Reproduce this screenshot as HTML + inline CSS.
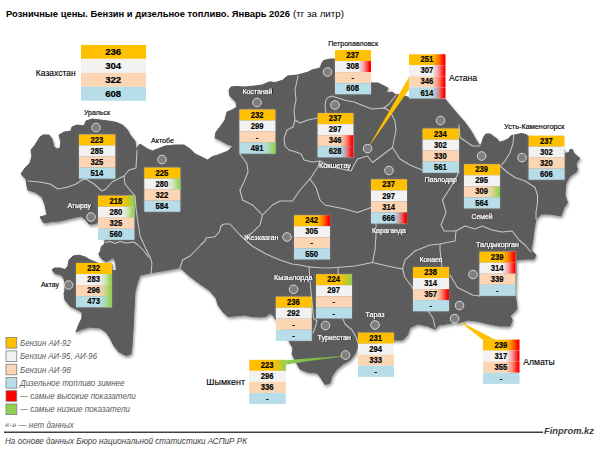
<!DOCTYPE html>
<html lang="ru">
<head>
<meta charset="utf-8">
<title>Розничные цены. Бензин и дизельное топливо</title>
<style>
html,body{margin:0;padding:0;background:#fff}
body{width:600px;height:451px;overflow:hidden}
svg{display:block}
svg text{font-family:"Liberation Sans",sans-serif}
.num{font-weight:bold;fill:#000;text-anchor:middle;stroke:#000;stroke-width:0.2px}
.leg{font-style:italic;fill:#595959;font-size:8.8px}
</style>
</head>
<body>
<svg width="600" height="451" viewBox="0 0 600 451">
<defs>
<filter id="ms" x="-5%" y="-5%" width="110%" height="110%"><feGaussianBlur in="SourceAlpha" stdDeviation="1.8"/><feOffset dx="1.3" dy="1.9"/><feComponentTransfer><feFuncA type="linear" slope="0.42"/></feComponentTransfer><feMerge><feMergeNode/><feMergeNode in="SourceGraphic"/></feMerge></filter>
<filter id="ts" x="-20%" y="-20%" width="140%" height="140%"><feGaussianBlur in="SourceAlpha" stdDeviation="1.3" result="b"/><feFlood flood-color="#ffffff" flood-opacity="0.22"/><feComposite in2="b" operator="in"/><feMerge><feMergeNode/><feMergeNode in="SourceGraphic"/></feMerge></filter>
<linearGradient id="gr" x1="0" x2="1" y1="0" y2="0"><stop offset="0" stop-color="#FF0000" stop-opacity="0"/><stop offset="0.45" stop-color="#FF0000" stop-opacity="0.35"/><stop offset="0.9" stop-color="#FF0000" stop-opacity="1"/><stop offset="1" stop-color="#FF0000"/></linearGradient>
<linearGradient id="gg" x1="0" x2="1" y1="0" y2="0"><stop offset="0" stop-color="#92D050" stop-opacity="0"/><stop offset="0.45" stop-color="#92D050" stop-opacity="0.35"/><stop offset="0.95" stop-color="#92D050" stop-opacity="1"/><stop offset="1" stop-color="#92D050"/></linearGradient>
<linearGradient id="gl" x1="0" x2="1" y1="0" y2="0"><stop offset="0" stop-color="#92D050"/><stop offset="0.35" stop-color="#84c04a"/><stop offset="1" stop-color="#6a9a44"/></linearGradient>
<filter id="bl" x="-20%" y="-20%" width="140%" height="140%"><feGaussianBlur stdDeviation="0.5"/></filter>
<filter id="ls" x="-10%" y="-30%" width="120%" height="160%"><feGaussianBlur in="SourceAlpha" stdDeviation="0.35"/><feOffset dx="0.5" dy="0.4"/><feComponentTransfer><feFuncA type="linear" slope="0.7"/></feComponentTransfer><feMerge><feMergeNode/><feMergeNode in="SourceGraphic"/></feMerge></filter>
</defs>
<rect width="600" height="451" fill="#fff"/>
<g filter="url(#ms)"><polygon points="21,174 25,168 30,163 32,156 31,150 35,145 40,137 43,135 49,135 52,139 54,147 57,149 60,148 61,142 59,135 64,132 71,131 72,127 77,125 84,126 86,121 92,119 100,120 108,121 116,122.3 122.5,125 127.5,130 130,135 135,141 136,149 140,144 147.5,149 152.5,151 157.5,149 165,146 175,145 184,145 190,149 195,154 202.5,157.5 207.5,160 212.5,156.5 218,155 228,151 233,146 227,144 220,140 215,138 216,132 220,127 225,120 227,112 232,110 237,107 236,102 230,96 229,90 231,87 236,86.5 244,87 255,86 262,85 266,83.3 270,81.8 275,82.6 282.5,80.3 287.5,76 297.5,75 307.5,72.3 312,70 320,68 322,63 323.5,60.5 330,59 335,59 345,59 360,68 371,83 378,83 382,85 388,88 386,93 392,92 396,95 400,94.5 409,97.5 445,99 450,105 457.5,114 465,122.5 471,131 476,140 480,146 481.7,143.3 483.4,137.5 485.8,134 490.4,134 493.3,136.3 497.4,139.3 499.2,142.2 503.8,141 508.5,138.7 510.8,135.8 516.7,134.6 521.3,133.4 526,134.6 528.3,136.3 540,138 555,142 564.6,150 564.6,153.5 569,152.5 570,149.5 572.5,149.5 573.5,153 577,156 580,158.5 577,161.5 576,165 577.5,169 576,172 572,174.5 569,177.5 567,181 565.5,185 565,195 567.5,202.5 564,207.5 561,216 550,214 541,214 536,219 534,230 532.5,242.5 531,250 536,255 534,259 525,259 516,260 516,272.5 515.5,296 516.5,303 517,309 513,313 510,316 512.4,320 510,326 500,326 490,324.3 478,321.3 467.5,320 460,322.5 454,322.5 446,324 439,325 435,329 427.5,326 417.5,324 410,327.5 407.5,335 402.5,340 395,340 358,346 355,354 350,360 343,364 336,370 332,376 330,383 325,384.5 321,378 317,373 307,372 300,369 296,362 292,354 293,348 290,343 285,332 276,320 274.5,318 273,315 270,313.5 268,314.5 266,316.5 260,317 252,316.5 244,315 235,316 228,316.5 223,312 218,305 216,298 209,290 200,284 190,276.5 180,267.5 167.5,270 152.5,272.5 140,275 137,284 135,292 134,310 133,330 132,346 131,354 126,355.5 119,352 114,346 110,338 106,332 100,328 90,327 82,329 76,332 79,324 82,318 82,312 76,309 70,306 65,300 64,294 65,290 64.4,280 63,277 60,274.5 55,273.5 52,270 54,268 60,268 65,269.5 68,266 69,260 73,256 79,255.2 85,257 90.3,260 96.5,262.5 100,264 112,264 112,270.5 116.5,270.5 115.6,262.5 113.4,257.6 110,259.5 106.3,261.6 104,260.7 100.5,257.2 98.7,254 100.5,251 101.4,246.5 104,244.8 105,240.3 98,222.5 93,224 89,224 86,220 81,216 72,218 60,221 49,222 44,223 40,217 47,215 45,205 42,197 35,192 28,190 27,186 26,179" fill="#5b5b5b" stroke="#5b5b5b" stroke-width="1" stroke-linejoin="round"/></g>
<g fill="none" stroke="#c6c6c6" stroke-width="1.05" stroke-linejoin="round" stroke-linecap="round">
<polyline points="28,181 40,182 50,184 58,189 68,187 76,184 82,180 86,179 94,184 102,191 106,189 112,182 120,178 124,176 129,170 136,168 137,150"/>
<polyline points="124,176 125,184 130,190 135,196 136,208 137,216 140,236 146,249 150,257 152,263 151,273.5"/>
<polyline points="105,242.5 110,241.5 115,243.5 120,241.5 126,243 134,242 138,245 144,251 148.5,257"/>
<polyline points="180,267.5 182.7,260 190,256 194,252 200.7,245 205,241 206,238 215,236.7 219.3,232 221,226 224,224 230,224 240,235 252,246 266,254 280,260 292,264 300,265 309,267"/>
<polyline points="240,190 242.5,200 252.5,205 262.5,215 260,225 252.5,232.5 245,237"/>
<polyline points="240,154 243,158 247,164 248,172 244,182 240,190"/>
<polyline points="298,76 295,90 296,100 294,110 295,120 293,127 287,130 284,138 285,146 289,150 296,152 301,154 304,160 312,162 320,161 317.5,167.5 310,179 300,190 292.5,201 280,201 272.5,205 262.5,215"/>
<polyline points="295,120 300,123 308,120 317,118"/>
<polyline points="326,113 325,106 326,100 328,97.5 332,96 338,98 344,100 354,102 364,106 372,109 384,108 388,110 392,115 395,121 396,130 392.5,147.5 382.5,155 372.5,162.5 367.5,156 357.5,159 354,165 351,171 332,167 320,161"/>
<polyline points="384,108 389,104 393,99 396,95.5"/>
<polyline points="310,179 316,187.5 320,200 325,205 345,209 357.5,212.5 371,207.5"/>
<polyline points="392.5,147.5 400,159 410,165 422,170"/>
<polyline points="459,125 460,137.5 472.5,146 480,146"/>
<polyline points="513.8,135.2 513,143.3 510,152.7 505,160.8 501.5,165"/>
<polyline points="500,166 507,172 515,177.5 525,181 535,187.5 537.5,195 537.5,203 536,212 536,219"/>
<polyline points="442.5,200 446,212.5 441,225 444,231 456,231 465,226 475,229 482,226 492,230 502,232 512,231 519,240 525,245 531,252"/>
<polyline points="459,172 452,185 442.5,200"/>
<polyline points="376,223 376,235 375,250 372.5,262.5"/>
<polyline points="309,267 320,267.8 330,268 355,266 372.5,262.5 387.5,266 402.5,269 405,260 415,251 430,245 440,244 455,241 456,231"/>
<polyline points="402.5,269 405,277.5 412.5,287.5 416,296 422,305 428,311 433,318 435,327"/>
<polyline points="440,244 440,250 442,267"/>
<polyline points="450,275 457.5,287.5 472.5,295 480,296"/>
<polyline points="309,267 310,280 311.5,297 313.5,318 317,321 315,328 313,333"/>
<polyline points="343,319 345,324 352,330 356,337 358,343"/>
<polyline points="338,268 338.4,274"/>
</g>
<polygon points="409,77 409,89.5 367.6,148.6" fill="#FFC000"/>
<polygon points="459,321 483,340 496,340" fill="#FFC000"/>
<polygon points="285.8,360.3 285.8,364.8 305,361.5 345.5,356.5 345.5,355.6" fill="url(#gl)"/>
<circle cx="96" cy="127.5" r="4.3" fill="#7f7f7f" stroke="#d9d9d9" stroke-width="1"/>
<circle cx="162" cy="159.5" r="4.3" fill="#7f7f7f" stroke="#d9d9d9" stroke-width="1"/>
<circle cx="91" cy="217" r="4.3" fill="#7f7f7f" stroke="#d9d9d9" stroke-width="1"/>
<circle cx="68.6" cy="285" r="4.3" fill="#7f7f7f" stroke="#d9d9d9" stroke-width="1"/>
<circle cx="257" cy="102.5" r="4.3" fill="#7f7f7f" stroke="#d9d9d9" stroke-width="1"/>
<circle cx="327.5" cy="72" r="4.3" fill="#7f7f7f" stroke="#d9d9d9" stroke-width="1"/>
<circle cx="335" cy="105" r="4.3" fill="#7f7f7f" stroke="#d9d9d9" stroke-width="1"/>
<circle cx="367.6" cy="148.6" r="4.3" fill="#7f7f7f" stroke="#d9d9d9" stroke-width="1"/>
<circle cx="440.5" cy="120.5" r="4.3" fill="#7f7f7f" stroke="#d9d9d9" stroke-width="1"/>
<circle cx="481.6" cy="156" r="4.3" fill="#7f7f7f" stroke="#d9d9d9" stroke-width="1"/>
<circle cx="522" cy="157.6" r="4.3" fill="#7f7f7f" stroke="#d9d9d9" stroke-width="1"/>
<circle cx="389" cy="170.5" r="4.3" fill="#7f7f7f" stroke="#d9d9d9" stroke-width="1"/>
<circle cx="287" cy="237" r="4.3" fill="#7f7f7f" stroke="#d9d9d9" stroke-width="1"/>
<circle cx="293.6" cy="289.3" r="4.3" fill="#7f7f7f" stroke="#d9d9d9" stroke-width="1"/>
<circle cx="325.5" cy="325.5" r="4.3" fill="#7f7f7f" stroke="#d9d9d9" stroke-width="1"/>
<circle cx="375" cy="325" r="4.3" fill="#7f7f7f" stroke="#d9d9d9" stroke-width="1"/>
<circle cx="345.5" cy="355" r="4.3" fill="#7f7f7f" stroke="#d9d9d9" stroke-width="1"/>
<circle cx="459.5" cy="305.5" r="4.3" fill="#7f7f7f" stroke="#d9d9d9" stroke-width="1"/>
<circle cx="473" cy="274.5" r="4.3" fill="#7f7f7f" stroke="#d9d9d9" stroke-width="1"/>
<circle cx="454.6" cy="318.6" r="4.3" fill="#7f7f7f" stroke="#d9d9d9" stroke-width="1"/>
<g filter="url(#ts)">
<rect x="81" y="44.90" width="65" height="14.00" fill="#FFC000"/>
<rect x="81" y="58.85" width="65" height="14.00" fill="#F2F2F2"/>
<rect x="81" y="72.80" width="65" height="14.00" fill="#FCD5B4"/>
<rect x="81" y="86.75" width="65" height="14.00" fill="#B7DEE8"/>
</g>
<text class="num" x="113.20" y="54.69" font-size="9.9" textLength="16.0" lengthAdjust="spacingAndGlyphs">236</text>
<text class="num" x="113.20" y="68.64" font-size="9.9" textLength="16.0" lengthAdjust="spacingAndGlyphs">304</text>
<text class="num" x="113.20" y="82.59" font-size="9.9" textLength="16.0" lengthAdjust="spacingAndGlyphs">322</text>
<text class="num" x="113.20" y="96.54" font-size="9.9" textLength="16.0" lengthAdjust="spacingAndGlyphs">608</text>
<g filter="url(#ts)">
<rect x="79" y="134.40" width="36.3" height="11.10" fill="#FFC000"/>
<rect x="79" y="145.45" width="36.3" height="11.10" fill="#F2F2F2"/>
<rect x="79" y="156.50" width="36.3" height="11.10" fill="#FCD5B4"/>
<rect x="79" y="167.55" width="36.3" height="11.10" fill="#B7DEE8"/>
</g>
<text class="num" x="96.85" y="142.57" font-size="9.4" textLength="12.8" lengthAdjust="spacingAndGlyphs">223</text>
<text class="num" x="96.85" y="153.62" font-size="9.4" textLength="12.8" lengthAdjust="spacingAndGlyphs">285</text>
<text class="num" x="96.85" y="164.67" font-size="9.4" textLength="12.8" lengthAdjust="spacingAndGlyphs">325</text>
<text class="num" x="96.85" y="175.72" font-size="9.4" textLength="12.8" lengthAdjust="spacingAndGlyphs">514</text>
<g filter="url(#ts)">
<rect x="144.3" y="167.50" width="36" height="11.10" fill="#FFC000"/>
<rect x="144.3" y="178.55" width="36" height="11.10" fill="#F2F2F2"/>
<rect x="167.34" y="178.55" width="12.96" height="11.10" fill="url(#gg)"/>
<rect x="144.3" y="189.60" width="36" height="11.10" fill="#FCD5B4"/>
<rect x="144.3" y="200.65" width="36" height="11.10" fill="#B7DEE8"/>
</g>
<text class="num" x="162.00" y="175.67" font-size="9.4" textLength="12.8" lengthAdjust="spacingAndGlyphs">225</text>
<text class="num" x="162.00" y="186.72" font-size="9.4" textLength="12.8" lengthAdjust="spacingAndGlyphs">280</text>
<text class="num" x="162.00" y="197.77" font-size="9.4" textLength="12.8" lengthAdjust="spacingAndGlyphs">322</text>
<text class="num" x="162.00" y="208.82" font-size="9.4" textLength="12.8" lengthAdjust="spacingAndGlyphs">584</text>
<g filter="url(#ts)">
<rect x="98" y="195.60" width="36.4" height="11.10" fill="#FFC000"/>
<rect x="121.30" y="195.60" width="13.10" height="11.10" fill="url(#gg)"/>
<rect x="98" y="206.65" width="36.4" height="11.10" fill="#F2F2F2"/>
<rect x="121.30" y="206.65" width="13.10" height="11.10" fill="url(#gg)"/>
<rect x="98" y="217.70" width="36.4" height="11.10" fill="#FCD5B4"/>
<rect x="98" y="228.75" width="36.4" height="11.10" fill="#B7DEE8"/>
</g>
<text class="num" x="115.90" y="203.77" font-size="9.4" textLength="12.8" lengthAdjust="spacingAndGlyphs">218</text>
<text class="num" x="115.90" y="214.82" font-size="9.4" textLength="12.8" lengthAdjust="spacingAndGlyphs">280</text>
<text class="num" x="115.90" y="225.87" font-size="9.4" textLength="12.8" lengthAdjust="spacingAndGlyphs">325</text>
<text class="num" x="115.90" y="236.92" font-size="9.4" textLength="12.8" lengthAdjust="spacingAndGlyphs">560</text>
<g filter="url(#ts)">
<rect x="76" y="263.00" width="36" height="11.10" fill="#FFC000"/>
<rect x="76" y="274.05" width="36" height="11.10" fill="#F2F2F2"/>
<rect x="99.04" y="274.05" width="12.96" height="11.10" fill="url(#gg)"/>
<rect x="76" y="285.10" width="36" height="11.10" fill="#FCD5B4"/>
<rect x="99.04" y="285.10" width="12.96" height="11.10" fill="url(#gg)"/>
<rect x="76" y="296.15" width="36" height="11.10" fill="#B7DEE8"/>
<rect x="99.04" y="296.15" width="12.96" height="11.10" fill="url(#gg)"/>
</g>
<text class="num" x="93.70" y="271.17" font-size="9.4" textLength="12.8" lengthAdjust="spacingAndGlyphs">232</text>
<text class="num" x="93.70" y="282.22" font-size="9.4" textLength="12.8" lengthAdjust="spacingAndGlyphs">283</text>
<text class="num" x="93.70" y="293.27" font-size="9.4" textLength="12.8" lengthAdjust="spacingAndGlyphs">296</text>
<text class="num" x="93.70" y="304.32" font-size="9.4" textLength="12.8" lengthAdjust="spacingAndGlyphs">473</text>
<g filter="url(#ts)">
<rect x="239.4" y="109.40" width="36" height="11.10" fill="#FFC000"/>
<rect x="239.4" y="120.45" width="36" height="11.10" fill="#F2F2F2"/>
<rect x="239.4" y="131.50" width="36" height="11.10" fill="#FCD5B4"/>
<rect x="239.4" y="142.55" width="36" height="11.10" fill="#B7DEE8"/>
<rect x="262.44" y="142.55" width="12.96" height="11.10" fill="url(#gg)"/>
</g>
<text class="num" x="257.10" y="117.57" font-size="9.4" textLength="12.8" lengthAdjust="spacingAndGlyphs">232</text>
<text class="num" x="257.10" y="128.62" font-size="9.4" textLength="12.8" lengthAdjust="spacingAndGlyphs">299</text>
<text class="num" x="257.10" y="139.67" font-size="7.5">-</text>
<text class="num" x="257.10" y="150.72" font-size="9.4" textLength="12.8" lengthAdjust="spacingAndGlyphs">491</text>
<g filter="url(#ts)">
<rect x="335" y="50.00" width="36" height="11.10" fill="#FFC000"/>
<rect x="335" y="61.05" width="36" height="11.10" fill="#F2F2F2"/>
<rect x="358.04" y="61.05" width="12.96" height="11.10" fill="url(#gr)"/>
<rect x="335" y="72.10" width="36" height="11.10" fill="#FCD5B4"/>
<rect x="335" y="83.15" width="36" height="11.10" fill="#B7DEE8"/>
</g>
<text class="num" x="352.70" y="58.17" font-size="9.4" textLength="12.8" lengthAdjust="spacingAndGlyphs">237</text>
<text class="num" x="352.70" y="69.22" font-size="9.4" textLength="12.8" lengthAdjust="spacingAndGlyphs">308</text>
<text class="num" x="352.70" y="80.27" font-size="7.5">-</text>
<text class="num" x="352.70" y="91.32" font-size="9.4" textLength="12.8" lengthAdjust="spacingAndGlyphs">608</text>
<g filter="url(#ts)">
<rect x="317.6" y="113.10" width="35.8" height="11.10" fill="#FFC000"/>
<rect x="317.6" y="124.15" width="35.8" height="11.10" fill="#F2F2F2"/>
<rect x="317.6" y="135.20" width="35.8" height="11.10" fill="#FCD5B4"/>
<rect x="340.51" y="135.20" width="12.89" height="11.10" fill="url(#gr)"/>
<rect x="317.6" y="146.25" width="35.8" height="11.10" fill="#B7DEE8"/>
<rect x="340.51" y="146.25" width="12.89" height="11.10" fill="url(#gr)"/>
</g>
<text class="num" x="335.20" y="121.27" font-size="9.4" textLength="12.8" lengthAdjust="spacingAndGlyphs">237</text>
<text class="num" x="335.20" y="132.32" font-size="9.4" textLength="12.8" lengthAdjust="spacingAndGlyphs">297</text>
<text class="num" x="335.20" y="143.37" font-size="9.4" textLength="12.8" lengthAdjust="spacingAndGlyphs">346</text>
<text class="num" x="335.20" y="154.42" font-size="9.4" textLength="12.8" lengthAdjust="spacingAndGlyphs">628</text>
<g filter="url(#ts)">
<rect x="409" y="54.20" width="36.5" height="11.10" fill="#FFC000"/>
<rect x="432.36" y="54.20" width="13.14" height="11.10" fill="url(#gr)"/>
<rect x="409" y="65.25" width="36.5" height="11.10" fill="#F2F2F2"/>
<rect x="432.36" y="65.25" width="13.14" height="11.10" fill="url(#gr)"/>
<rect x="409" y="76.30" width="36.5" height="11.10" fill="#FCD5B4"/>
<rect x="432.36" y="76.30" width="13.14" height="11.10" fill="url(#gr)"/>
<rect x="409" y="87.35" width="36.5" height="11.10" fill="#B7DEE8"/>
<rect x="432.36" y="87.35" width="13.14" height="11.10" fill="url(#gr)"/>
</g>
<text class="num" x="426.95" y="62.37" font-size="9.4" textLength="12.8" lengthAdjust="spacingAndGlyphs">251</text>
<text class="num" x="426.95" y="73.42" font-size="9.4" textLength="12.8" lengthAdjust="spacingAndGlyphs">307</text>
<text class="num" x="426.95" y="84.47" font-size="9.4" textLength="12.8" lengthAdjust="spacingAndGlyphs">346</text>
<text class="num" x="426.95" y="95.52" font-size="9.4" textLength="12.8" lengthAdjust="spacingAndGlyphs">614</text>
<g filter="url(#ts)">
<rect x="422.6" y="128.50" width="36.4" height="11.10" fill="#FFC000"/>
<rect x="422.6" y="139.55" width="36.4" height="11.10" fill="#F2F2F2"/>
<rect x="422.6" y="150.60" width="36.4" height="11.10" fill="#FCD5B4"/>
<rect x="422.6" y="161.65" width="36.4" height="11.10" fill="#B7DEE8"/>
</g>
<text class="num" x="440.50" y="136.67" font-size="9.4" textLength="12.8" lengthAdjust="spacingAndGlyphs">234</text>
<text class="num" x="440.50" y="147.72" font-size="9.4" textLength="12.8" lengthAdjust="spacingAndGlyphs">302</text>
<text class="num" x="440.50" y="158.77" font-size="9.4" textLength="12.8" lengthAdjust="spacingAndGlyphs">330</text>
<text class="num" x="440.50" y="169.82" font-size="9.4" textLength="12.8" lengthAdjust="spacingAndGlyphs">561</text>
<g filter="url(#ts)">
<rect x="464" y="164.20" width="36" height="11.10" fill="#FFC000"/>
<rect x="464" y="175.25" width="36" height="11.10" fill="#F2F2F2"/>
<rect x="464" y="186.30" width="36" height="11.10" fill="#FCD5B4"/>
<rect x="487.04" y="186.30" width="12.96" height="11.10" fill="url(#gg)"/>
<rect x="464" y="197.35" width="36" height="11.10" fill="#B7DEE8"/>
</g>
<text class="num" x="481.70" y="172.37" font-size="9.4" textLength="12.8" lengthAdjust="spacingAndGlyphs">239</text>
<text class="num" x="481.70" y="183.42" font-size="9.4" textLength="12.8" lengthAdjust="spacingAndGlyphs">295</text>
<text class="num" x="481.70" y="194.47" font-size="9.4" textLength="12.8" lengthAdjust="spacingAndGlyphs">309</text>
<text class="num" x="481.70" y="205.52" font-size="9.4" textLength="12.8" lengthAdjust="spacingAndGlyphs">564</text>
<g filter="url(#ts)">
<rect x="528.6" y="135.50" width="36" height="11.10" fill="#FFC000"/>
<rect x="528.6" y="146.55" width="36" height="11.10" fill="#F2F2F2"/>
<rect x="528.6" y="157.60" width="36" height="11.10" fill="#FCD5B4"/>
<rect x="528.6" y="168.65" width="36" height="11.10" fill="#B7DEE8"/>
</g>
<text class="num" x="546.30" y="143.67" font-size="9.4" textLength="12.8" lengthAdjust="spacingAndGlyphs">237</text>
<text class="num" x="546.30" y="154.72" font-size="9.4" textLength="12.8" lengthAdjust="spacingAndGlyphs">302</text>
<text class="num" x="546.30" y="165.77" font-size="9.4" textLength="12.8" lengthAdjust="spacingAndGlyphs">320</text>
<text class="num" x="546.30" y="176.82" font-size="9.4" textLength="12.8" lengthAdjust="spacingAndGlyphs">606</text>
<g filter="url(#ts)">
<rect x="371" y="179.30" width="36" height="11.10" fill="#FFC000"/>
<rect x="371" y="190.35" width="36" height="11.10" fill="#F2F2F2"/>
<rect x="371" y="201.40" width="36" height="11.10" fill="#FCD5B4"/>
<rect x="371" y="212.45" width="36" height="11.10" fill="#B7DEE8"/>
<rect x="394.04" y="212.45" width="12.96" height="11.10" fill="url(#gr)"/>
</g>
<text class="num" x="388.70" y="187.47" font-size="9.4" textLength="12.8" lengthAdjust="spacingAndGlyphs">237</text>
<text class="num" x="388.70" y="198.52" font-size="9.4" textLength="12.8" lengthAdjust="spacingAndGlyphs">297</text>
<text class="num" x="388.70" y="209.57" font-size="9.4" textLength="12.8" lengthAdjust="spacingAndGlyphs">314</text>
<text class="num" x="388.70" y="220.62" font-size="9.4" textLength="12.8" lengthAdjust="spacingAndGlyphs">666</text>
<g filter="url(#ts)">
<rect x="294" y="215.20" width="36" height="11.10" fill="#FFC000"/>
<rect x="317.04" y="215.20" width="12.96" height="11.10" fill="url(#gr)"/>
<rect x="294" y="226.25" width="36" height="11.10" fill="#F2F2F2"/>
<rect x="294" y="237.30" width="36" height="11.10" fill="#FCD5B4"/>
<rect x="294" y="248.35" width="36" height="11.10" fill="#B7DEE8"/>
</g>
<text class="num" x="311.70" y="223.37" font-size="9.4" textLength="12.8" lengthAdjust="spacingAndGlyphs">242</text>
<text class="num" x="311.70" y="234.42" font-size="9.4" textLength="12.8" lengthAdjust="spacingAndGlyphs">305</text>
<text class="num" x="311.70" y="245.47" font-size="7.5">-</text>
<text class="num" x="311.70" y="256.52" font-size="9.4" textLength="12.8" lengthAdjust="spacingAndGlyphs">550</text>
<g filter="url(#ts)">
<rect x="275.8" y="296.60" width="36" height="11.10" fill="#FFC000"/>
<rect x="275.8" y="307.65" width="36" height="11.10" fill="#F2F2F2"/>
<rect x="275.8" y="318.70" width="36" height="11.10" fill="#FCD5B4"/>
<rect x="275.8" y="329.75" width="36" height="11.10" fill="#B7DEE8"/>
</g>
<text class="num" x="293.50" y="304.77" font-size="9.4" textLength="12.8" lengthAdjust="spacingAndGlyphs">236</text>
<text class="num" x="293.50" y="315.82" font-size="9.4" textLength="12.8" lengthAdjust="spacingAndGlyphs">292</text>
<text class="num" x="293.50" y="326.87" font-size="7.5">-</text>
<text class="num" x="293.50" y="337.92" font-size="7.5">-</text>
<g filter="url(#ts)">
<rect x="316" y="274.20" width="36" height="11.10" fill="#FFC000"/>
<rect x="339.04" y="274.20" width="12.96" height="11.10" fill="url(#gg)"/>
<rect x="316" y="285.25" width="36" height="11.10" fill="#F2F2F2"/>
<rect x="316" y="296.30" width="36" height="11.10" fill="#FCD5B4"/>
<rect x="316" y="307.35" width="36" height="11.10" fill="#B7DEE8"/>
</g>
<text class="num" x="333.70" y="282.37" font-size="9.4" textLength="12.8" lengthAdjust="spacingAndGlyphs">224</text>
<text class="num" x="333.70" y="293.42" font-size="9.4" textLength="12.8" lengthAdjust="spacingAndGlyphs">297</text>
<text class="num" x="333.70" y="304.47" font-size="7.5">-</text>
<text class="num" x="333.70" y="315.52" font-size="7.5">-</text>
<g filter="url(#ts)">
<rect x="358" y="332.60" width="36" height="11.10" fill="#FFC000"/>
<rect x="358" y="343.65" width="36" height="11.10" fill="#F2F2F2"/>
<rect x="358" y="354.70" width="36" height="11.10" fill="#FCD5B4"/>
<rect x="358" y="365.75" width="36" height="11.10" fill="#B7DEE8"/>
</g>
<text class="num" x="375.70" y="340.77" font-size="9.4" textLength="12.8" lengthAdjust="spacingAndGlyphs">231</text>
<text class="num" x="375.70" y="351.82" font-size="9.4" textLength="12.8" lengthAdjust="spacingAndGlyphs">294</text>
<text class="num" x="375.70" y="362.87" font-size="9.4" textLength="12.8" lengthAdjust="spacingAndGlyphs">333</text>
<text class="num" x="375.70" y="373.92" font-size="7.5">-</text>
<g filter="url(#ts)">
<rect x="249.2" y="359.80" width="36.6" height="11.10" fill="#FFC000"/>
<rect x="272.62" y="359.80" width="13.18" height="11.10" fill="url(#gg)"/>
<rect x="249.2" y="370.85" width="36.6" height="11.10" fill="#F2F2F2"/>
<rect x="249.2" y="381.90" width="36.6" height="11.10" fill="#FCD5B4"/>
<rect x="249.2" y="392.95" width="36.6" height="11.10" fill="#B7DEE8"/>
</g>
<text class="num" x="267.20" y="367.97" font-size="9.4" textLength="12.8" lengthAdjust="spacingAndGlyphs">223</text>
<text class="num" x="267.20" y="379.02" font-size="9.4" textLength="12.8" lengthAdjust="spacingAndGlyphs">296</text>
<text class="num" x="267.20" y="390.07" font-size="9.4" textLength="12.8" lengthAdjust="spacingAndGlyphs">336</text>
<text class="num" x="267.20" y="401.12" font-size="7.5">-</text>
<g filter="url(#ts)">
<rect x="413" y="267.00" width="36" height="11.10" fill="#FFC000"/>
<rect x="413" y="278.05" width="36" height="11.10" fill="#F2F2F2"/>
<rect x="413" y="289.10" width="36" height="11.10" fill="#FCD5B4"/>
<rect x="436.04" y="289.10" width="12.96" height="11.10" fill="url(#gr)"/>
<rect x="413" y="300.15" width="36" height="11.10" fill="#B7DEE8"/>
</g>
<text class="num" x="430.70" y="275.17" font-size="9.4" textLength="12.8" lengthAdjust="spacingAndGlyphs">238</text>
<text class="num" x="430.70" y="286.22" font-size="9.4" textLength="12.8" lengthAdjust="spacingAndGlyphs">314</text>
<text class="num" x="430.70" y="297.27" font-size="9.4" textLength="12.8" lengthAdjust="spacingAndGlyphs">357</text>
<text class="num" x="430.70" y="308.32" font-size="7.5">-</text>
<g filter="url(#ts)">
<rect x="479.4" y="251.60" width="36.2" height="11.10" fill="#FFC000"/>
<rect x="502.57" y="251.60" width="13.03" height="11.10" fill="url(#gr)"/>
<rect x="479.4" y="262.65" width="36.2" height="11.10" fill="#F2F2F2"/>
<rect x="502.57" y="262.65" width="13.03" height="11.10" fill="url(#gr)"/>
<rect x="479.4" y="273.70" width="36.2" height="11.10" fill="#FCD5B4"/>
<rect x="479.4" y="284.75" width="36.2" height="11.10" fill="#B7DEE8"/>
</g>
<text class="num" x="497.20" y="259.77" font-size="9.4" textLength="12.8" lengthAdjust="spacingAndGlyphs">239</text>
<text class="num" x="497.20" y="270.82" font-size="9.4" textLength="12.8" lengthAdjust="spacingAndGlyphs">314</text>
<text class="num" x="497.20" y="281.87" font-size="9.4" textLength="12.8" lengthAdjust="spacingAndGlyphs">339</text>
<text class="num" x="497.20" y="292.92" font-size="7.5">-</text>
<g filter="url(#ts)">
<rect x="483" y="339.60" width="36.5" height="11.10" fill="#FFC000"/>
<rect x="506.36" y="339.60" width="13.14" height="11.10" fill="url(#gr)"/>
<rect x="483" y="350.65" width="36.5" height="11.10" fill="#F2F2F2"/>
<rect x="506.36" y="350.65" width="13.14" height="11.10" fill="url(#gr)"/>
<rect x="483" y="361.70" width="36.5" height="11.10" fill="#FCD5B4"/>
<rect x="506.36" y="361.70" width="13.14" height="11.10" fill="url(#gr)"/>
<rect x="483" y="372.75" width="36.5" height="11.10" fill="#B7DEE8"/>
</g>
<text class="num" x="500.95" y="347.77" font-size="9.4" textLength="12.8" lengthAdjust="spacingAndGlyphs">239</text>
<text class="num" x="500.95" y="358.82" font-size="9.4" textLength="12.8" lengthAdjust="spacingAndGlyphs">317</text>
<text class="num" x="500.95" y="369.87" font-size="9.4" textLength="12.8" lengthAdjust="spacingAndGlyphs">355</text>
<text class="num" x="500.95" y="380.92" font-size="7.5">-</text>
<text x="35.8" y="75.83" font-size="9.8" fill="#000" stroke="#000" stroke-width="0.15" textLength="40.0" lengthAdjust="spacingAndGlyphs">Казахстан</text>
<text x="84.0" y="114.52" font-size="7.0" fill="#000" stroke="#000" stroke-width="0.15" textLength="26.0" lengthAdjust="spacingAndGlyphs">Уральск</text>
<text x="151.0" y="143.02" font-size="7.0" fill="#000" stroke="#000" stroke-width="0.15" textLength="23.0" lengthAdjust="spacingAndGlyphs">Актобе</text>
<text filter="url(#ls)" x="67.4" y="207.52" font-size="7.0" fill="#fff" stroke="#fff" stroke-width="0.15" textLength="23.599999999999994" lengthAdjust="spacingAndGlyphs">Атырау</text>
<text x="41" y="286.92" font-size="7.0" fill="#000" stroke="#000" stroke-width="0.15" textLength="18" lengthAdjust="spacingAndGlyphs">Актау</text>
<text filter="url(#ls)" x="242.4" y="93.52" font-size="7.0" fill="#fff" stroke="#fff" stroke-width="0.15" textLength="29.99999999999997" lengthAdjust="spacingAndGlyphs">Костанай</text>
<text x="328.2" y="45.62" font-size="7.0" fill="#000" stroke="#000" stroke-width="0.15" textLength="49.80000000000001" lengthAdjust="spacingAndGlyphs">Петропавловск</text>
<text filter="url(#ls)" x="319" y="167.92" font-size="7.0" fill="#fff" stroke="#fff" stroke-width="0.15" textLength="32" lengthAdjust="spacingAndGlyphs">Кокшетау</text>
<text x="449" y="81.03" font-size="9.8" fill="#000" stroke="#000" stroke-width="0.15" textLength="28" lengthAdjust="spacingAndGlyphs">Астана</text>
<text filter="url(#ls)" x="424.4" y="182.12" font-size="7.0" fill="#fff" stroke="#fff" stroke-width="0.15" textLength="32.60000000000002" lengthAdjust="spacingAndGlyphs">Павлодар</text>
<text filter="url(#ls)" x="471.5" y="218.52" font-size="7.0" fill="#fff" stroke="#fff" stroke-width="0.15" textLength="21.0" lengthAdjust="spacingAndGlyphs">Семей</text>
<text x="504" y="128.52" font-size="7.0" fill="#000" stroke="#000" stroke-width="0.15" textLength="60.5" lengthAdjust="spacingAndGlyphs">Усть-Каменогорск</text>
<text filter="url(#ls)" x="372" y="233.02" font-size="7.0" fill="#fff" stroke="#fff" stroke-width="0.15" textLength="34" lengthAdjust="spacingAndGlyphs">Караганда</text>
<text filter="url(#ls)" x="244" y="239.52" font-size="7.0" fill="#fff" stroke="#fff" stroke-width="0.15" textLength="34.5" lengthAdjust="spacingAndGlyphs">Жезказган</text>
<text filter="url(#ls)" x="274" y="280.02" font-size="7.0" fill="#fff" stroke="#fff" stroke-width="0.15" textLength="38.5" lengthAdjust="spacingAndGlyphs">Кызылорда</text>
<text filter="url(#ls)" x="317.5" y="340.02" font-size="7.0" fill="#fff" stroke="#fff" stroke-width="0.15" textLength="33.5" lengthAdjust="spacingAndGlyphs">Туркестан</text>
<text filter="url(#ls)" x="365.5" y="316.52" font-size="7.0" fill="#fff" stroke="#fff" stroke-width="0.15" textLength="19.0" lengthAdjust="spacingAndGlyphs">Тараз</text>
<text x="206.3" y="384.53" font-size="9.8" fill="#000" stroke="#000" stroke-width="0.15" textLength="38.69999999999999" lengthAdjust="spacingAndGlyphs">Шымкент</text>
<text filter="url(#ls)" x="419.5" y="262.02" font-size="7.0" fill="#fff" stroke="#fff" stroke-width="0.15" textLength="23.0" lengthAdjust="spacingAndGlyphs">Конаев</text>
<text filter="url(#ls)" x="476.0" y="246.52" font-size="7.0" fill="#fff" stroke="#fff" stroke-width="0.15" textLength="43.0" lengthAdjust="spacingAndGlyphs">Талдыкорган</text>
<text x="523.2" y="365.13" font-size="9.8" fill="#000" stroke="#000" stroke-width="0.15" textLength="31.59999999999991" lengthAdjust="spacingAndGlyphs">Алматы</text>
<text x="6" y="17.4" font-size="9.2" fill="#000"><tspan font-weight="bold" textLength="284" lengthAdjust="spacingAndGlyphs">Розничные цены. Бензин и дизельное топливо. Январь 2026</tspan></text>
<text x="293" y="17.4" font-size="9.2" fill="#000" textLength="51" lengthAdjust="spacingAndGlyphs">(тг за литр)</text>
<rect x="6" y="337.5" width="10.8" height="10.6" fill="#FFC000" stroke="#7f7f7f" stroke-width="0.8"/>
<text class="leg" x="20" y="345.9" textLength="50.8" lengthAdjust="spacingAndGlyphs">Бензин АИ-92</text>
<rect x="6" y="350.9" width="10.8" height="10.6" fill="#F2F2F2" stroke="#7f7f7f" stroke-width="0.8"/>
<text class="leg" x="20" y="359.3" textLength="77" lengthAdjust="spacingAndGlyphs">Бензин АИ-95, АИ-96</text>
<rect x="6" y="364.2" width="10.8" height="10.6" fill="#FCD5B4" stroke="#7f7f7f" stroke-width="0.8"/>
<text class="leg" x="20" y="372.6" textLength="50.8" lengthAdjust="spacingAndGlyphs">Бензин АИ-98</text>
<rect x="6" y="377.5" width="10.8" height="10.6" fill="#B7DEE8" stroke="#7f7f7f" stroke-width="0.8"/>
<text class="leg" x="20" y="385.9" textLength="104.5" lengthAdjust="spacingAndGlyphs">Дизельное топливо зимнее</text>
<rect x="6" y="390.7" width="10.8" height="10.6" fill="#FF0000" stroke="#7f7f7f" stroke-width="0.8"/>
<text class="leg" x="20" y="399.1" textLength="115.8" lengthAdjust="spacingAndGlyphs">— самые высокие показатели</text>
<rect x="6" y="404.0" width="10.8" height="10.6" fill="#92D050" stroke="#7f7f7f" stroke-width="0.8"/>
<text class="leg" x="20" y="412.4" textLength="110" lengthAdjust="spacingAndGlyphs">— самые низкие показатели</text>
<text class="leg" x="5" y="428.2" textLength="68.8" lengthAdjust="spacingAndGlyphs">«-» — нет данных</text>
<line x1="4" y1="432.2" x2="543" y2="432.2" stroke="#404040" stroke-width="1.4"/>
<text class="leg" x="5" y="443.6" style="fill:#404040" textLength="242" lengthAdjust="spacingAndGlyphs">На основе данных Бюро национальной статистики АСПиР РК</text>
<text x="544" y="433.5" font-size="9.6" font-weight="bold" font-style="italic" fill="#404040" textLength="50" lengthAdjust="spacingAndGlyphs">Finprom.kz</text>
</svg>
</body>
</html>
